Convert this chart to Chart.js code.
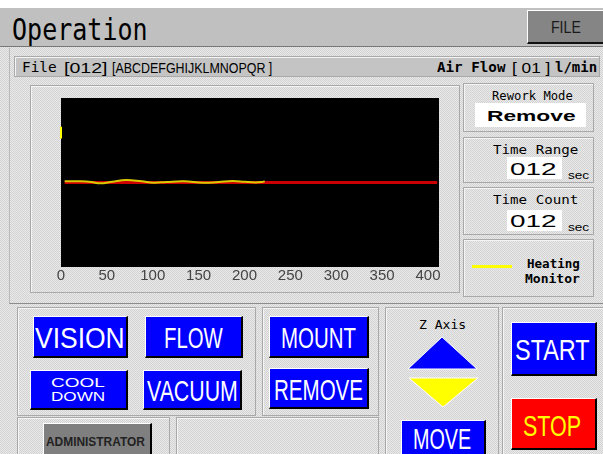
<!DOCTYPE html>
<html>
<head>
<meta charset="utf-8">
<script src="https://cdn.jsdelivr.net/npm/chart.js@4.4.1/dist/chart.umd.min.js"></script>
<style>
    html, body { margin: 0; padding: 0; }
    body { width: 603px; height: 454px; overflow: hidden; position: relative; background: #fff; }
    .box { position: absolute; box-sizing: border-box; }
    .dither { background: repeating-conic-gradient(#e9e9e9 0% 25%, #d3d3d3 0% 50%) 0 0 / 2px 2px; }
    .panel { border: 1px solid #a9a9a9; box-shadow: inset 1px 1px 0 #f4f4f4; }
    .btn { border-top: 1px solid #fff; border-left: 1px solid #fff; border-right: 2px solid #000; border-bottom: 2px solid #000; }
    .txt { position: absolute; white-space: nowrap; line-height: 1; transform-origin: 0 0; z-index: 3; }
    #chartWrap { position: absolute; left: 30px; top: 86px; width: 430px; height: 204px; z-index: 2; }
</style>
</head>
<body>
<div id="chartWrap"><canvas id="heat-chart" width="430" height="204"></canvas></div>
<script>
    // x axis ticks
    const xTickValues = [0, 50, 100, 150, 200, 250, 300, 350, 400];

    // yellow trace (heating monitor)
    const heatX = [4, 22, 33, 43, 56, 71, 88, 101, 115, 134, 155, 172, 187, 200, 212, 219, 222];
    const heatY = [50.7, 50.7, 50.3, 49.5, 50.5, 51.5, 50.7, 49.9, 50.3, 50.7, 49.8, 50.3, 50.9, 50.4, 50.0, 50.3, 50.7];

    // red target line
    const targetX = [4, 410];
    const targetY = [50, 50];

    // small yellow tick at the start
    const startX = [0, 0];
    const startY = [76, 83];

    const MONO = '"DejaVu Sans Mono", monospace';
    const SANS = '"Liberation Sans", Arial, sans-serif';

    function box(x1, y1, x2, y2, cls, bg) {
        const el = document.createElement('div');
        el.className = 'box ' + cls;
        el.style.left = x1 + 'px';
        el.style.top = y1 + 'px';
        el.style.width = (x2 - x1) + 'px';
        el.style.height = (y2 - y1) + 'px';
        if (bg) el.style.background = bg;
        document.body.appendChild(el);
        return el;
    }

    const labels = [];
    function label(text, o) {
        const el = document.createElement('div');
        el.className = 'txt';
        el.textContent = text;
        el.style.font = (o.weight || 'normal') + ' ' + o.size + 'px ' + (o.font || SANS);
        el.style.color = o.color || '#000';
        el.style.top = (o.cy - o.size * 0.49) + 'px';
        document.body.appendChild(el);
        labels.push({ el, o });
        return el;
    }

    function fitLabels() {
        labels.forEach(({ el, o }) => {
            el.style.transform = 'none';
            const w = el.offsetWidth;
            const tw = o.w || w;
            el.style.transform = 'scaleX(' + (tw / w) + ')';
            el.style.left = (o.cx != null ? o.cx - tw / 2 : o.x) + 'px';
        });
    }

    // background + title bar
    box(0, 8, 603, 454, 'dither');
    box(0, 8, 603, 47, '', '#c0c0c0').style.borderBottom = '1px solid #777';
    const fileBtn = box(527, 10, 603, 44, '', '#858585');
    fileBtn.style.borderTop = '1px solid #fff';
    fileBtn.style.borderLeft = '1px solid #fff';
    fileBtn.style.borderBottom = '2px solid #111';
    label('Operation', { x: 12, cy: 27, size: 30, font: MONO, w: 136 });
    label('FILE', { cx: 566, cy: 27, size: 16, w: 30, color: '#1a1a1a' });

    // upper area
    const upper = box(9, 48, 604, 304, '');
    upper.style.borderLeft = '1px solid #b8b8b8';
    upper.style.borderBottom = '1px solid #8c8c8c';
    box(14, 56, 600, 77, 'panel', '#c4c4c4');
    label('File', { x: 22, cy: 66, size: 14, font: MONO, w: 35 });
    label('[012]', { x: 64, cy: 66, size: 15, w: 43 });
    label('[ABCDEFGHIJKLMNOPQR ]', { x: 112, cy: 66, size: 15, w: 160 });
    label('Air Flow', { x: 437, cy: 66, size: 14, font: MONO, weight: 'bold', w: 68 });
    label('[ 01 ]', { x: 512, cy: 66, size: 15, w: 38 });
    label('l/min', { x: 555, cy: 66, size: 14, font: MONO, weight: 'bold', w: 42 });

    box(30, 85, 460, 293, 'panel');

    // right info boxes
    box(463, 83, 594, 132, 'panel');
    box(463, 137, 594, 183, 'panel');
    box(463, 187, 594, 235, 'panel');
    box(463, 239, 594, 297, 'panel');
    box(475, 103, 586, 127, '', '#fff');
    box(507, 157, 562, 179, '', '#fff');
    box(507, 210, 562, 231, '', '#fff');
    box(472, 265, 512, 268, '', '#ffff00');
    label('Rework Mode', { cx: 532, cy: 94, size: 12.5, font: MONO, w: 81 });
    label('Remove', { cx: 531, cy: 114, size: 15, weight: 'bold', w: 88 });
    label('Time Range', { cx: 535, cy: 148, size: 13, font: MONO, w: 85 });
    label('012', { cx: 533, cy: 169, size: 16, w: 47 });
    label('sec', { x: 568, cy: 174, size: 11, w: 21 });
    label('Time Count', { cx: 535, cy: 198, size: 13, font: MONO, w: 85 });
    label('012', { cx: 533, cy: 221, size: 16, w: 47 });
    label('sec', { x: 568, cy: 226, size: 11, w: 21 });
    label('Heating', { x: 527, cy: 262, size: 13, font: MONO, weight: 'bold', w: 53 });
    label('Monitor', { x: 525, cy: 277, size: 13, font: MONO, weight: 'bold', w: 55 });

    // lower panels
    box(17, 307, 256, 416, 'panel');
    box(262, 307, 379, 416, 'panel');
    box(385, 307, 499, 470, 'panel');
    box(502, 307, 610, 470, 'panel');
    box(17, 417, 170, 470, 'panel');
    box(176, 417, 379, 470, 'panel');

    const BLUE = '#0000ff';
    function button(x1, y1, x2, y2, bg) { return box(x1, y1, x2, y2, 'btn', bg); }
    button(33, 316, 128, 358, BLUE);
    button(145, 316, 243, 358, BLUE);
    button(30, 370, 128, 410, BLUE);
    button(143, 370, 242, 410, BLUE);
    button(269, 316, 369, 358, BLUE);
    button(269, 368, 369, 409, BLUE);
    button(511, 322, 597, 376, BLUE);
    button(511, 398, 597, 450, '#ff0000');
    button(401, 420, 486, 480, BLUE);
    button(43, 423, 152, 480, '#7f7f7f');

    const W = '#ffffff';
    label('VISION', { cx: 80, cy: 336, size: 30, color: W, w: 90 });
    label('FLOW', { cx: 193, cy: 336, size: 30, color: W, w: 59 });
    label('COOL', { cx: 78, cy: 381, size: 13, color: W, w: 54 });
    label('DOWN', { cx: 78, cy: 395, size: 13, color: W, w: 54 });
    label('VACUUM', { cx: 192, cy: 389, size: 30, color: W, w: 91 });
    label('MOUNT', { cx: 318, cy: 336, size: 30, color: W, w: 75 });
    label('REMOVE', { cx: 318, cy: 388, size: 30, color: W, w: 89 });
    label('START', { cx: 552, cy: 348, size: 30, color: W, w: 75 });
    label('STOP', { cx: 552, cy: 424, size: 30, color: '#ffff00', w: 58 });
    label('MOVE', { cx: 442, cy: 437, size: 30, color: W, w: 58 });
    label('ADMINISTRATOR', { cx: 95, cy: 440, size: 13, weight: 'bold', color: '#222', w: 99 });
    label('Z Axis', { cx: 442, cy: 323, size: 12.5, font: MONO, w: 47 });

    // Z axis arrows
    const svgNS = 'http://www.w3.org/2000/svg';
    const svg = document.createElementNS(svgNS, 'svg');
    svg.setAttribute('width', '603');
    svg.setAttribute('height', '454');
    svg.style.position = 'absolute';
    svg.style.left = '0';
    svg.style.top = '0';
    svg.innerHTML =
        '<polygon points="442,337 477,369 408,369" fill="#0000ff" stroke="#fff" stroke-width="1"/>' +
        '<polygon points="409,378 478,378 443,407" fill="#ffff00" stroke="#fff" stroke-width="1"/>';
    document.body.appendChild(svg);

    fitLabels();
    document.fonts.ready.then(fitLabels);

    // black plot area
    const plotBackground = {
        id: 'plotBackground',
        beforeDraw(chart) {
            const { ctx, chartArea: a } = chart;
            ctx.save();
            ctx.fillStyle = '#000';
            ctx.fillRect(a.left, a.top, a.right - a.left, a.bottom - a.top);
            ctx.restore();
        }
    };

    const toPoints = (xs, ys) => xs.map((x, i) => ({ x: x, y: ys[i] }));

    new Chart(document.getElementById('heat-chart'), {
        type: 'line',
        data: {
            datasets: [
                {
                    data: toPoints(heatX, heatY),
                    borderColor: '#d8cb00',
                    borderWidth: 2,
                    tension: 0.4,
                    pointRadius: 0
                },
                {
                    data: toPoints(startX, startY),
                    borderColor: '#ffff00',
                    borderWidth: 2,
                    pointRadius: 0,
                    clip: false
                },
                {
                    data: toPoints(targetX, targetY),
                    borderColor: '#cc0000',
                    borderWidth: 3,
                    pointRadius: 0
                }
            ]
        },
        options: {
            responsive: false,
            animation: false,
            devicePixelRatio: 1,
            layout: { padding: { left: 31, right: 21, top: 12, bottom: 0 } },
            plugins: {
                legend: { display: false },
                tooltip: { enabled: false }
            },
            scales: {
                x: {
                    type: 'linear',
                    min: 0,
                    max: 412,
                    grid: { display: false, drawTicks: false },
                    border: { display: false },
                    afterBuildTicks: (s) => { s.ticks = xTickValues.map(v => ({ value: v })); },
                    afterFit: (s) => { s.height = 23; },
                    ticks: {
                        padding: 0,
                        maxRotation: 0,
                        color: '#444',
                        font: { family: 'Liberation Sans', size: 15 }
                    }
                },
                y: {
                    display: false,
                    min: 0,
                    max: 100
                }
            }
        },
        plugins: [plotBackground]
    });
</script>
</body>
</html>
